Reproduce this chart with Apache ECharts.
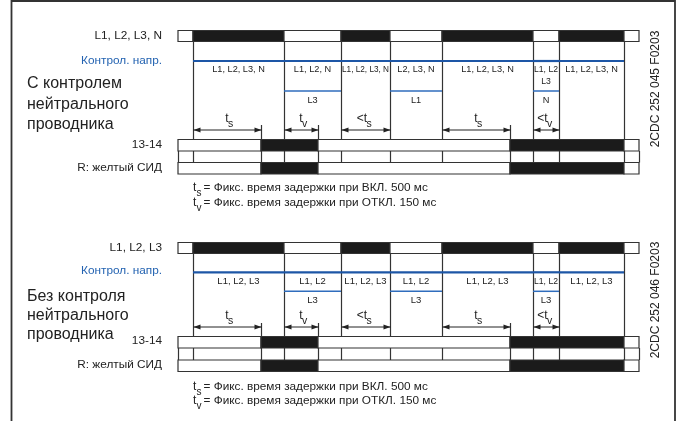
<!DOCTYPE html>
<html><head><meta charset="utf-8">
<script src="https://cdn.jsdelivr.net/npm/echarts@6/dist/echarts.min.js"></script>
<style>html,body{margin:0;padding:0;background:#fff}#c{width:686px;height:421px}</style>
</head><body><div id="c"></div>
<script>
// ---- data (time axis in arbitrary units; diagram is not to scale) ----
const supplyEdges = [0, 15, 106, 163, 212, 264, 355, 381, 446, 461];
const supplyStates = [0, 1, 0, 1, 0, 1, 0, 1, 0];
const outputEdges = [0, 83, 140, 332, 446, 461];
const outputStates = [0, 1, 0, 1, 0];
const delayStart = [15, 106, 163, 264, 355];
const delayEnd = [83, 140, 212, 332, 381];
const delayPrefix = ['', '', '<', '', '<'];
const delaySub = ['s', 'v', 's', 's', 'v'];
const monTopMain = ['L1, L2, L3, N', 'L1, L2, N', 'L1, L2, L3, N', 'L2, L3, N', 'L1, L2, L3, N', 'L1, L2\nL3', 'L1, L2, L3, N'];
const monTopSub = ['', 'L3', '', 'L1', '', 'N', ''];
const monBotMain = ['L1, L2, L3', 'L1, L2', 'L1, L2, L3', 'L1, L2', 'L1, L2, L3', 'L1, L2', 'L1, L2, L3'];
const monBotSub = ['', 'L3', '', 'L3', '', 'L3', ''];
const supplyLabels = ['L1, L2, L3, N', 'L1, L2, L3'];
const monitorLabel = 'Контрол. напр.';
const titleLines = [['С контролем', 'нейтрального', 'проводника'], ['Без контроля', 'нейтрального', 'проводника']];
const outputLabel = '13-14';
const ledLabel = 'R: желтый СИД';
const footOn = '= Фикс. время задержки при ВКЛ. 500 мс';
const footOff = '= Фикс. время задержки при ОТКЛ. 150 мс';
const codes = ['2CDC 252 045 F0203', '2CDC 252 046 F0203'];

// ---- layout / style ----
const FF = '"Liberation Sans", Arial, Helvetica, sans-serif';
const INK = '#222';
const LINE = '#333';
const BLACK = '#1b1b1b';
const BLUE = '#1d56a6';
const BLUE2 = '#2f6dbd';
const LAY = [
  {supTop: 30.5, supH: 11, blue1: 61, lblA: 69, lblLine: 12, blue2: 91, lblB: 100, dlyLbl: 119, dly: 130, tick: 125, outTop: 139.5, outH: 11.5, ledTop: 162.5, ledH: 11.5, fs: 9.2,
   left: {sup: 36, mon: 60.5, big: [84, 105, 125], out: 145, led: 168, foot: [188, 203], code: 89}},
  {supTop: 242.5, supH: 11, blue1: 272.3, lblA: 281, lblLine: 12, blue2: 291.3, lblB: 300, dlyLbl: 316, dly: 327, tick: 323, outTop: 336.5, outH: 11.5, ledTop: 360, ledH: 11.5, fs: 9.5,
   left: {sup: 248, mon: 271, big: [297, 316, 335], out: 341, led: 365, foot: [387, 401], code: 300}}
];

const mctx = document.createElement('canvas').getContext('2d');
function squeeze(text, size, maxW) {
  mctx.font = size + 'px ' + FF;
  const w = Math.max(...text.split('\n').map(l => mctx.measureText(l).width));
  return w > maxW ? maxW / w : 1;
}
const X = (api, t) => api.coord([t, 0])[0];

function segData(edges, states) {
  const d = [];
  for (let h = 0; h < 2; h++) for (let i = 0; i < states.length; i++) d.push([edges[i], edges[i + 1], states[i], h]);
  return d;
}

const monData = [];
for (let h = 0; h < 2; h++) for (let k = 0; k < 7; k++) monData.push([supplyEdges[k + 1], supplyEdges[k + 2], h, k]);

const allEdges = Array.from(new Set(supplyEdges.concat(outputEdges))).sort((a, b) => a - b);
const vertData = [];
const firstT = supplyEdges[0], lastT = supplyEdges[supplyEdges.length - 1];
for (let h = 0; h < 2; h++) for (const t of allEdges) {
  let kind;
  if (t === firstT || t === lastT) kind = 0;
  else if (supplyEdges.includes(t)) kind = 2;
  else kind = 1;
  vertData.push([t, kind, h]);
}
const delayData = [];
for (let h = 0; h < 2; h++) for (let k = 0; k < delayStart.length; k++) delayData.push([delayStart[k], delayEnd[k], h, k]);

const series = [
  {
    type: 'custom', coordinateSystem: 'cartesian2d', data: vertData, encode: {x: 0}, clip: false, silent: true, z: 1,
    renderItem(p, api) {
      const t = api.value(0), kind = api.value(1), L = LAY[api.value(2)];
      const x = Math.round(X(api, t)) + 0.5;
      const y0 = kind === 2 ? L.supTop + L.supH : kind === 1 ? L.tick : L.outTop + L.outH;
      const y1 = kind === 0 ? L.ledTop : L.ledTop + L.ledH;
      return {type: 'line', shape: {x1: x, y1: y0, x2: x, y2: y1}, style: {stroke: LINE, lineWidth: 1.2}};
    }
  },
  {
    type: 'custom', coordinateSystem: 'cartesian2d', data: segData(supplyEdges, supplyStates), encode: {x: [0, 1]}, clip: false, silent: true, z: 3,
    renderItem(p, api) {
      const L = LAY[api.value(3)];
      const x0 = X(api, api.value(0)), x1 = X(api, api.value(1));
      return {type: 'rect', shape: {x: x0, y: L.supTop, width: x1 - x0, height: L.supH},
        style: {fill: api.value(2) ? BLACK : '#fff', stroke: LINE, lineWidth: 1.2}};
    }
  },
  {
    type: 'custom', coordinateSystem: 'cartesian2d', data: segData(outputEdges, outputStates), encode: {x: [0, 1]}, clip: false, silent: true, z: 3,
    renderItem(p, api) {
      const L = LAY[api.value(3)];
      const x0 = X(api, api.value(0)), x1 = X(api, api.value(1));
      const st = {fill: api.value(2) ? BLACK : '#fff', stroke: LINE, lineWidth: 1.2};
      return {type: 'group', children: [
        {type: 'rect', shape: {x: x0, y: L.outTop, width: x1 - x0, height: L.outH}, style: st},
        {type: 'rect', shape: {x: x0, y: L.ledTop, width: x1 - x0, height: L.ledH}, style: Object.assign({}, st)}
      ]};
    }
  },
  {
    type: 'custom', coordinateSystem: 'cartesian2d', data: monData, encode: {x: [0, 1]}, clip: false, silent: true, z: 4,
    renderItem(p, api) {
      const h = api.value(2), k = api.value(3), L = LAY[h];
      const x0 = X(api, api.value(0)), x1 = X(api, api.value(1));
      const main = (h ? monBotMain : monTopMain)[k];
      const sub = (h ? monBotSub : monTopSub)[k];
      const cx = (x0 + x1) / 2;
      const sc = squeeze(main, L.fs, x1 - x0 - 2);
      const ch = [
        {type: 'line', shape: {x1: x0, y1: L.blue1, x2: x1, y2: L.blue1}, style: {stroke: BLUE, lineWidth: 2.2}},
        {type: 'text', x: cx, y: L.lblA - 6, scaleX: sc,
          style: {text: main, x: 0, y: 0, align: 'center', verticalAlign: 'top', font: L.fs + 'px ' + FF, fill: INK, lineHeight: L.lblLine}}
      ];
      if (sub) {
        ch.push({type: 'line', shape: {x1: x0, y1: L.blue2, x2: x1, y2: L.blue2}, style: {stroke: BLUE2, lineWidth: 1.5}});
        ch.push({type: 'text', style: {text: sub, x: cx, y: L.lblB, align: 'center', verticalAlign: 'middle', font: L.fs + 'px ' + FF, fill: INK}});
      }
      return {type: 'group', children: ch};
    }
  },
  {
    type: 'custom', coordinateSystem: 'cartesian2d', data: delayData, encode: {x: [0, 1]}, clip: false, silent: true, z: 4,
    renderItem(p, api) {
      const h = api.value(2), k = api.value(3), L = LAY[h];
      const x0 = Math.round(X(api, api.value(0))) + 0.5, x1 = Math.round(X(api, api.value(1))) + 0.5;
      const y = L.dly, cx = (x0 + x1) / 2;
      const hl = 7, hw = 2.5;
      return {type: 'group', children: [
        {type: 'line', shape: {x1: x0, y1: y, x2: x1, y2: y}, style: {stroke: INK, lineWidth: 1}},
        {type: 'polygon', shape: {points: [[x0, y], [x0 + hl, y - hw], [x0 + hl, y + hw]]}, style: {fill: INK}},
        {type: 'polygon', shape: {points: [[x1, y], [x1 - hl, y - hw], [x1 - hl, y + hw]]}, style: {fill: INK}},
        {type: 'text', style: {text: delayPrefix[k] + 't', x: cx + 1, y: L.dlyLbl, align: 'right', verticalAlign: 'middle', font: '12px ' + FF, fill: INK}},
        {type: 'text', style: {text: delaySub[k], x: cx + 0.5, y: L.dlyLbl + 5, align: 'left', verticalAlign: 'middle', font: '10.5px ' + FF, fill: INK}}
      ]};
    }
  }
];

const graphics = [
  {type: 'polyline', shape: {points: [[11.5, 430], [11.5, 1], [675, 1], [675, 430]]}, style: {stroke: '#333', lineWidth: 1.8, fill: null}, silent: true}
];
for (let h = 0; h < 2; h++) {
  const G = LAY[h].left;
  const txt = (text, x, y, size, opt) => graphics.push({type: 'text', silent: true, style: Object.assign({text, x, y, font: size + 'px ' + FF, fill: INK, align: 'left', verticalAlign: 'middle'}, opt || {})});
  txt(supplyLabels[h], 162, G.sup, 11.8, {align: 'right'});
  txt(monitorLabel, 162, G.mon, 11.8, {align: 'right', fill: '#2463b1'});
  titleLines[h].forEach((s, i) => txt(s, 27, G.big[i], 16));
  txt(outputLabel, 162, G.out, 11.8, {align: 'right'});
  txt(ledLabel, 162, G.led, 11.8, {align: 'right'});
  txt('t', 193, G.foot[0], 12);
  txt('s', 196.5, G.foot[0] + 5, 10);
  txt(footOn, 203.5, G.foot[0], 11.8);
  txt('t', 193, G.foot[1], 12);
  txt('v', 196.5, G.foot[1] + 5, 10);
  txt(footOff, 203.5, G.foot[1], 11.8);
  graphics.push({type: 'text', silent: true, x: 656, y: G.code, rotation: Math.PI / 2,
    style: {text: codes[h], x: 0, y: 0, font: '12px ' + FF, fill: INK, align: 'center', verticalAlign: 'middle'}});
}

const chart = echarts.init(document.getElementById('c'), null, {renderer: 'canvas'});
chart.setOption({
  animation: false,
  backgroundColor: '#fff',
  grid: {left: 178, right: 47, top: 0, bottom: 0},
  xAxis: {type: 'value', min: supplyEdges[0], max: supplyEdges[supplyEdges.length - 1], show: false},
  yAxis: {type: 'value', min: 0, max: 1, show: false},
  series,
  graphic: graphics
});
</script></body></html>
